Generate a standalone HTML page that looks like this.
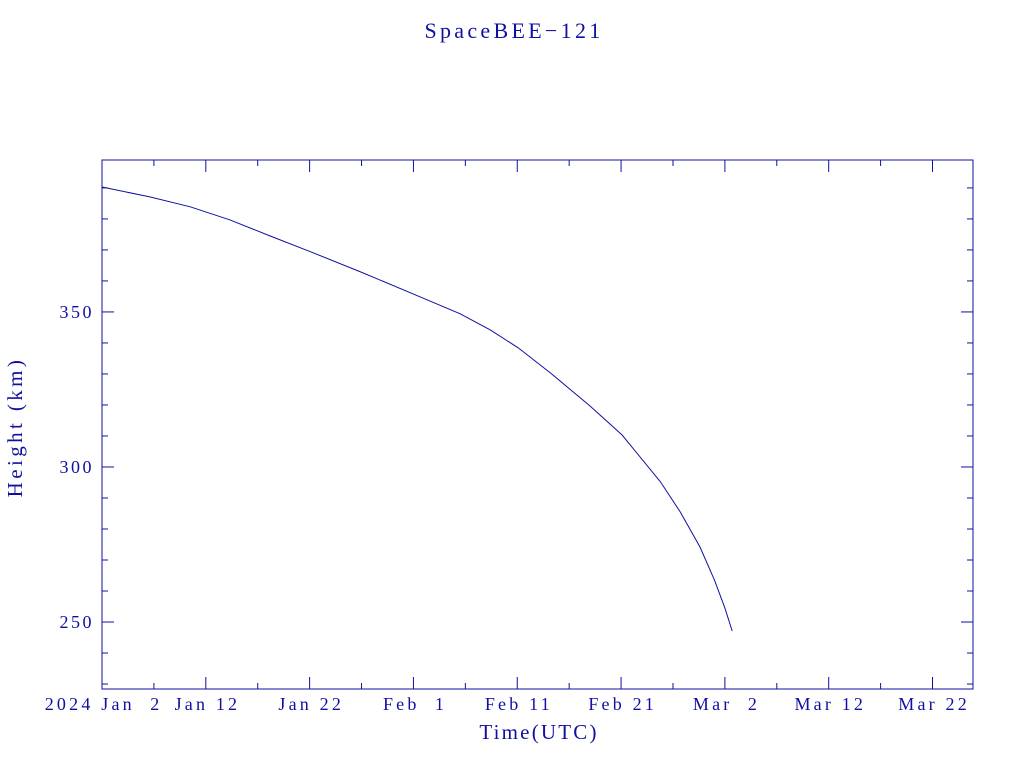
<!DOCTYPE html>
<html><head><meta charset="utf-8"><style>
html,body{margin:0;padding:0;background:#fff;}
svg{display:block;font-family:"Liberation Serif",serif;}
</style></head><body>
<svg id="chart" width="1024" height="768" viewBox="0 0 1024 768" xmlns="http://www.w3.org/2000/svg">
<text x="514" y="38" text-anchor="middle" font-size="22" fill="#1010a0" letter-spacing="3.3">SpaceBEE−121</text>
<rect x="102" y="160" width="871" height="529" fill="none" stroke="#1010a0" stroke-width="1"/>
<g id="ticks"></g>
<g id="labels" font-size="18" fill="#1010a0"></g>
<path id="line" fill="none" stroke="#1010a0" stroke-width="1"/>
<text x="539" y="739" text-anchor="middle" font-size="21" fill="#1010a0" letter-spacing="2.2">Time(UTC)</text>
<text transform="translate(22,427) rotate(-90)" text-anchor="middle" font-size="21" fill="#1010a0" letter-spacing="3.4">Height (km)</text>
</svg>
<script>
// data: days since 2024 Jan 2, height in km
const days = [0,4.6,8.5,12.3,16.2,20.1,24.9,30.2,34.5,37.4,40.1,43.2,47.0,50.1,53.8,55.7,57.6,59.0,60.0,60.7];
const heights = [390.3,387.1,383.9,379.7,374.5,369.4,362.9,355.5,349.4,344.2,338.4,330.3,319.7,310.3,295.2,285.5,274.2,263.5,254.5,247.1];
const xTickDays = [0,10,20,30,40,50,60,70,80];
const xTickLabels = ["2024 Jan  2","Jan 12","Jan 22","Feb  1","Feb 11","Feb 21","Mar  2","Mar 12","Mar 22"];
const yTicks = [250,300,350];
const yTickLabels = ["250","300","350"];

const X0=102,X1=973,Y0=160,Y1=689;
const dMin=0,dMax=83.9,hMin=228.4,hMax=399.0;
const xs=d=>X0+(d-dMin)/(dMax-dMin)*(X1-X0);
const ys=h=>Y1-(h-hMin)/(hMax-hMin)*(Y1-Y0);
const NS="http://www.w3.org/2000/svg";
const tg=document.getElementById('ticks'), lg=document.getElementById('labels');
function ln(x1,y1,x2,y2){const l=document.createElementNS(NS,'line');
l.setAttribute('x1',x1);l.setAttribute('y1',y1);l.setAttribute('x2',x2);l.setAttribute('y2',y2);
l.setAttribute('stroke','#1010a0');l.setAttribute('stroke-width','1');


tg.appendChild(l);}
for(let d=0;d<=dMax;d+=5){const x=xs(d),L=(d%10===0)?12:6;ln(x,Y1,x,Y1-L);ln(x,Y0,x,Y0+L);}
for(let h=230;h<=hMax;h+=10){const y=ys(h),L=(h%50===0)?12:6;ln(X0,y,X0+L,y);ln(X1,y,X1-L,y);}
xTickDays.forEach((d,i)=>{const t=document.createElementNS(NS,'text');
t.setAttribute('x',xs(d)+1.6);t.setAttribute('y',Y1+21);t.setAttribute('text-anchor','middle');
t.setAttribute('letter-spacing','3.2');
t.setAttribute('xml:space','preserve');t.style.whiteSpace='pre';


t.textContent=xTickLabels[i];lg.appendChild(t);});
yTicks.forEach((h,i)=>{const t=document.createElementNS(NS,'text');
t.setAttribute('x',X0-8);t.setAttribute('y',ys(h)+6);t.setAttribute('text-anchor','end');
t.setAttribute('letter-spacing','2.5');


t.textContent=yTickLabels[i];lg.appendChild(t);});
document.getElementById('line').setAttribute('d',days.map((d,i)=>(i?'L':'M')+xs(d).toFixed(1)+','+ys(heights[i]).toFixed(1)).join(''));
</script>
</body></html>
